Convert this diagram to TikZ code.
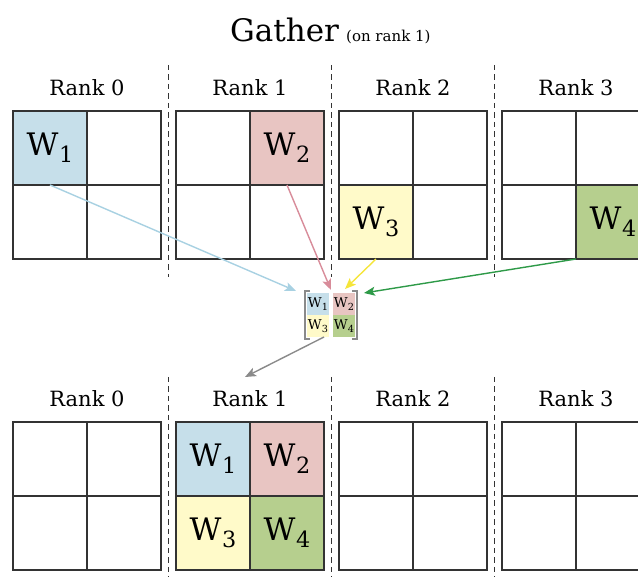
\documentclass[tikz,border=0pt]{standalone}
\usepackage{fontspec}
\setmainfont{DejaVu Serif}
\usetikzlibrary{arrows.meta}

\definecolor{wblue}{HTML}{C6DFEA}
\definecolor{wpink}{HTML}{E8C5C2}
\definecolor{wyellow}{HTML}{FFFAC9}
\definecolor{wgreen}{HTML}{B6CF8E}
\definecolor{ablue}{HTML}{A8D1E2}
\definecolor{apink}{HTML}{D88C9A}
\definecolor{ayellow}{HTML}{F5E53A}
\definecolor{agreen}{HTML}{2E9A48}
\definecolor{agray}{HTML}{8A8A8A}
\definecolor{gridline}{HTML}{333333}

% weight block label: W with a lowered index
\newcommand\wlab[1]{W\kern0.02em\raisebox{-0.22em}{\scalebox{0.72}{#1}}}

\begin{document}
\begin{tikzpicture}[x=1pt,y=-1pt,
  cell/.style={draw=gridline, line width=1.5pt, minimum width=74pt,
    minimum height=74pt, inner sep=0pt, outer sep=0pt,
    font=\fontsize{31}{34}\selectfont},
  mini/.style={minimum width=22pt, minimum height=22pt, inner sep=0pt,
    outer sep=0pt, font=\fontsize{13.5}{15}\selectfont},
  ranklabel/.style={anchor=base, inner sep=0pt, font=\fontsize{21}{24}\selectfont},
  sep/.style={draw=gridline, line width=1.4pt, dash pattern=on 5.5pt off 4pt},
  gath/.style={line width=1.4pt, -{Stealth[length=11pt,width=9pt,inset=2.5pt]}},
  bracket/.style={draw=agray, line width=2pt}
]
\useasboundingbox (0,0) rectangle (638,577);

% title
\node[anchor=base west, inner sep=0pt, font=\fontsize{31}{36}\selectfont] (title) at (230,42) {Gather};
\node[anchor=base west, inner sep=0pt, font=\fontsize{15}{18}\selectfont] (subtitle) at (346,42) {(on rank 1)};

% rank labels
\foreach \r/\cx in {0/87,1/250,2/413,3/576}{
  \node[ranklabel] (lt\r) at (\cx,96) {Rank \r};
  \node[ranklabel] (lb\r) at (\cx,407) {Rank \r};
}

% separators between ranks
\foreach \sx in {168.5,331.5,494.5}{
  \draw[sep] (\sx,65) -- (\sx,277);
  \draw[sep] (\sx,377) -- (\sx,577);
}

% 2x2 blocks held by each rank, before and after the gather
\foreach \nm/\cx/\cy/\fc/\tx in {
  t0-11/50/148/wblue/{\wlab{1}}, t0-12/124/148/white/{}, t0-21/50/222/white/{}, t0-22/124/222/white/{},
  t1-11/213/148/white/{}, t1-12/287/148/wpink/{\wlab{2}}, t1-21/213/222/white/{}, t1-22/287/222/white/{},
  t2-11/376/148/white/{}, t2-12/450/148/white/{}, t2-21/376/222/wyellow/{\wlab{3}}, t2-22/450/222/white/{},
  t3-11/539/148/white/{}, t3-12/613/148/white/{}, t3-21/539/222/white/{}, t3-22/613/222/wgreen/{\wlab{4}},
  b0-11/50/459/white/{}, b0-12/124/459/white/{}, b0-21/50/533/white/{}, b0-22/124/533/white/{},
  b1-11/213/459/wblue/{\wlab{1}}, b1-12/287/459/wpink/{\wlab{2}}, b1-21/213/533/wyellow/{\wlab{3}}, b1-22/287/533/wgreen/{\wlab{4}},
  b2-11/376/459/white/{}, b2-12/450/459/white/{}, b2-21/376/533/white/{}, b2-22/450/533/white/{},
  b3-11/539/459/white/{}, b3-12/613/459/white/{}, b3-21/539/533/white/{}, b3-22/613/533/white/{}}{
  \node[cell, fill=\fc] (\nm) at (\cx,\cy) {\tx};
}

% gathered buffer
\node[mini, fill=wblue] (m1) at (318,304) {\wlab{1}};
\node[mini, fill=wpink] (m2) at (344,304) {\wlab{2}};
\node[mini, fill=wyellow] (m3) at (318,326) {\wlab{3}};
\node[mini, fill=wgreen] (m4) at (344,326) {\wlab{4}};
\draw[bracket] (310,291) -- (305,291) -- (305,339) -- (310,339);
\draw[bracket] (352,291) -- (357,291) -- (357,339) -- (352,339);

% arrow tips
\coordinate (inblue) at (296,291);
\coordinate (inpink) at (331,290);
\coordinate (inyellow) at (345,289);
\coordinate (ingreen) at (364,293);
\coordinate (outgray) at (245,377);

\draw[gath, ablue] (t0-11.south) -- (inblue);
\draw[gath, apink] (t1-12.south) -- (inpink);
\draw[gath, ayellow] (t2-21.south) -- (inyellow);
\draw[gath, agreen] (t3-22.south west) -- (ingreen);
\draw[gath, agray] ([xshift=-5pt]m3.south east) -- (outgray);
\end{tikzpicture}
\end{document}
